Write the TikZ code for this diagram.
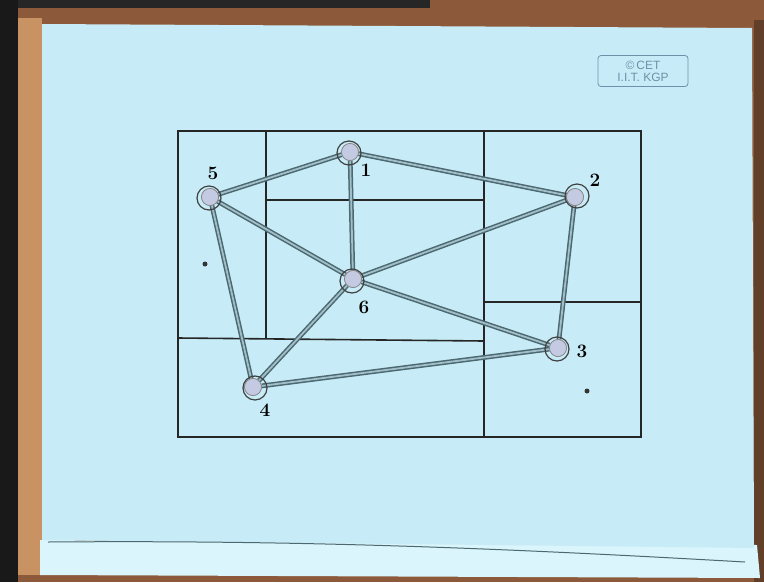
\documentclass[tikz,border=0pt]{standalone}
\usepackage{fontspec}
\usepackage{tikz}
\usetikzlibrary{positioning}
\newfontfamily\cetfont{Liberation Sans}

\definecolor{paper}{HTML}{C8ECF7}
\definecolor{sheet}{HTML}{DAF5FB}
\definecolor{wood}{HTML}{8C5A3A}
\definecolor{woodlight}{HTML}{C99262}
\definecolor{edgegray}{HTML}{4C6870}
\definecolor{edgelight}{HTML}{A0BFC8}
\definecolor{nodefill}{HTML}{C4CAE2}
\definecolor{stamp}{HTML}{6C92AA}

\begin{document}
\begin{tikzpicture}[x=1pt, y=-1pt,
  cell/.style={line width=1.6pt, draw=black!85},
  link/.style={line width=1.5pt, draw=edgegray, double=edgelight, double distance=1.8pt},
  vertex/.style={circle, fill=nodefill, draw=black!50, line width=0.6pt,
    minimum size=17pt, inner sep=0pt},
  ring/.style={circle, draw=black!75, line width=1.2pt, minimum size=24pt, inner sep=0pt},
  numlabel/.style={font=\fontsize{19}{19}\selectfont\bfseries}
]
\useasboundingbox (0,0) rectangle (764,582);

%% --- board, frame and paper ---
\fill[wood] (0,0) rectangle (764,582);
\fill[black!90] (0,0) rectangle (18,582);
\fill[black!85] (18,0) rectangle (430,8);
\fill[woodlight] (18,18) rectangle (42,575);
\fill[wood!70!black] (754,20) rectangle (764,582);
\fill[sheet] (40,540) -- (757,545) -- (760,578) -- (40,575) -- cycle;
\fill[paper] (42,24) -- (752,28) -- (754,548) -- (42,540) -- cycle;
\draw[edgegray, line width=1pt] (48,542) .. controls (300,540) and (500,548) .. (745,562);

%% --- stamp ---
\node[draw=stamp, line width=0.8pt, rounded corners=3pt, align=center, text=stamp,
  font=\cetfont\fontsize{12}{12}\selectfont, minimum width=90pt, minimum height=31pt]
  (cet) at (643,71) {\textcopyright\,CET\\I.I.T. KGP};

%% --- partition of the plane ---
\draw[cell] (178,131) rectangle (641,437);
\draw[cell] (266,131) -- (266,338);
\draw[cell] (266,200) -- (484,200);
\draw[cell] (484,131) -- (484,437);
\draw[cell] (178,338) -- (484,341);
\draw[cell] (484,302) -- (641,302);

%% --- sites ---
\node[vertex] (v1) at (350,152) {};
\node[vertex] (v2) at (575,197) {};
\node[vertex] (v3) at (558,348) {};
\node[vertex] (v4) at (253,387) {};
\node[vertex] (v5) at (210,197) {};
\node[vertex] (v6) at (353,279) {};

%% --- connections ---
\draw[link] (v5) -- (v1);
\draw[link] (v1) -- (v2);
\draw[link] (v1) -- (v6);
\draw[link] (v5) -- (v6);
\draw[link] (v5) -- (v4);
\draw[link] (v6) -- (v2);
\draw[link] (v6) -- (v4);
\draw[link] (v6) -- (v3);
\draw[link] (v2) -- (v3);
\draw[link] (v4) -- (v3);

%% --- site discs over the lines ---
\foreach \v in {1,...,6}
  \node[vertex] (w\v) at (v\v) {};
\node[ring] (r1) at (349,153) {};
\node[ring] (r2) at (577,196) {};
\node[ring] (r3) at (557,349) {};
\node[ring] (r4) at (255,388) {};
\node[ring] (r5) at (209,198) {};
\node[ring] (r6) at (352,281) {};

%% --- numbers ---
\node[numlabel] (n1) at (366,170) {1};
\node[numlabel] (n2) at (595,180) {2};
\node[numlabel] (n3) at (582,351) {3};
\node[numlabel] (n4) at (265,410) {4};
\node[numlabel] (n5) at (213,173) {5};
\node[numlabel] (n6) at (364,307) {6};

%% --- stray dots ---
\fill[black!80] (205,264) circle (2.5pt);
\fill[black!80] (587,391) circle (2.5pt);

\end{tikzpicture}
\end{document}
